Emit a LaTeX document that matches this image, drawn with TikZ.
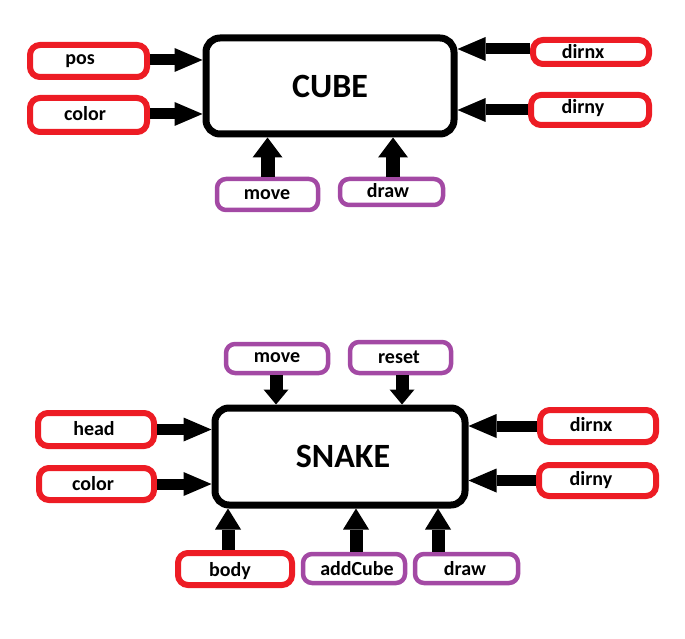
\documentclass[tikz,border=0pt]{standalone}
\usepackage{fontspec}
\setmainfont{Carlito}
\usetikzlibrary{arrows.meta}
\definecolor{pred}{HTML}{ED1C24}
\definecolor{ppur}{HTML}{A349A4}
\begin{document}
\begin{tikzpicture}[x=1pt,y=-1pt,
 mainbox/.style={draw=black,line width=7pt,rounded corners=14pt,inner sep=0pt},
 redbox/.style={draw=pred,line width=6pt,rounded corners=10pt,inner sep=0pt},
 purbox/.style={draw=ppur,line width=4.5pt,rounded corners=9pt,inner sep=0pt},
 lbl/.style={font=\bfseries\fontsize{20}{24}\selectfont,anchor=base,inner sep=0pt},
 big/.style={font=\bfseries\fontsize{34}{40}\selectfont,anchor=base,inner sep=0pt},
 harrow/.style={line width=11pt,-{Triangle[length=28pt,width=24pt,line width=0pt]}},
 uarrow/.style={line width=14pt,-{Triangle[length=20pt,width=30pt,line width=0pt]}},
 barrow/.style={line width=13pt,-{Triangle[length=21pt,width=26pt,line width=0pt]}},
 darrow/.style={line width=13pt,-{Triangle[length=15pt,width=25pt,line width=0pt]}},
]
\useasboundingbox (0,0) rectangle (685,639);
% ---------- CUBE ----------
\node[mainbox,minimum width=248pt,minimum height=96pt] (cube) at (330,86) {};
\node[big] (cubeT) at (330,98) {CUBE};
\node[redbox,minimum width=117pt,minimum height=32pt] (pos) at (88.5,61) {};
\node[lbl] (posT) at (80,65) {pos};
\node[redbox,minimum width=117pt,minimum height=34pt] (col) at (88.5,115) {};
\node[lbl] (colT) at (85,121) {color};
\node[redbox,minimum width=116pt,minimum height=24pt] (dx) at (591,52) {};
\node[lbl] (dxT) at (583,59) {dirnx};
\node[redbox,minimum width=118pt,minimum height=30pt] (dy) at (590,110) {};
\node[lbl] (dyT) at (583,114) {dirny};
\node[purbox,minimum width=101pt,minimum height=31pt] (mv) at (267.5,194.5) {};
\node[lbl] (mvT) at (267,200) {move};
\node[purbox,minimum width=103pt,minimum height=26pt] (dr) at (391.5,192) {};
\node[lbl] (drT) at (388,197) {draw};
\draw[harrow] ([yshift=1pt]pos.east) -- ([yshift=1pt]pos.east -| cube.west);
\draw[harrow] ([yshift=1pt]col.east) -- ([yshift=1pt]col.east -| cube.west);
\draw[harrow] ([yshift=3pt]dx.west) -- ([yshift=3pt]dx.west -| cube.east);
\draw[harrow] (dy.west) -- (dy.west -| cube.east);
\draw[uarrow] (mv.north) -- (mv.north |- cube.south);
\draw[uarrow] ([xshift=1.5pt]dr.north) -- ([xshift=1.5pt]dr.north |- cube.south);
% ---------- SNAKE ----------
\node[mainbox,minimum width=250pt,minimum height=97pt] (snake) at (340,456.5) {};
\node[big] (snakeT) at (343,467) {SNAKE};
\node[purbox,minimum width=102pt,minimum height=29pt] (mv2) at (277,358.5) {};
\node[lbl] (mv2T) at (277,362) {move};
\node[purbox,minimum width=101pt,minimum height=31pt] (rs) at (400.5,357.5) {};
\node[lbl] (rsT) at (399,363) {reset};
\node[redbox,minimum width=116pt,minimum height=33pt] (hd) at (96,429.5) {};
\node[lbl] (hdT) at (94,435) {head};
\node[redbox,minimum width=115pt,minimum height=32pt] (col2) at (96.5,484) {};
\node[lbl] (col2T) at (93,490) {color};
\node[redbox,minimum width=116pt,minimum height=32pt] (dx2) at (598,426) {};
\node[lbl] (dx2T) at (591,431) {dirnx};
\node[redbox,minimum width=117pt,minimum height=31pt] (dy2) at (597.5,480.5) {};
\node[lbl] (dy2T) at (591,485) {dirny};
\node[redbox,minimum width=114pt,minimum height=32pt] (bd) at (235,569) {};
\node[lbl] (bdT) at (230,576) {body};
\node[purbox,minimum width=102pt,minimum height=29pt] (ac) at (354,568.5) {};
\node[lbl] (acT) at (357,575) {addCube};
\node[purbox,minimum width=103pt,minimum height=29pt] (dr2) at (466.5,568.5) {};
\node[lbl] (dr2T) at (465,575) {draw};
\draw[darrow] ([xshift=-1pt]mv2.south) -- ([xshift=-1pt]mv2.south |- snake.north);
\draw[darrow] ([xshift=1.5pt]rs.south) -- ([xshift=1.5pt]rs.south |- snake.north);
\draw[harrow] (hd.east) -- (hd.east -| snake.west);
\draw[harrow] (col2.east) -- (col2.east -| snake.west);
\draw[harrow] (dx2.west) -- (dx2.west -| snake.east);
\draw[harrow] (dy2.west) -- (dy2.west -| snake.east);
\draw[barrow] ([xshift=-7pt]bd.north) -- ([xshift=-7pt]bd.north |- snake.south);
\draw[barrow] ([xshift=2pt]ac.north) -- ([xshift=2pt]ac.north |- snake.south);
\draw[barrow] ([xshift=-28.5pt]dr2.north) -- ([xshift=-28.5pt]dr2.north |- snake.south);
\end{tikzpicture}
\end{document}
